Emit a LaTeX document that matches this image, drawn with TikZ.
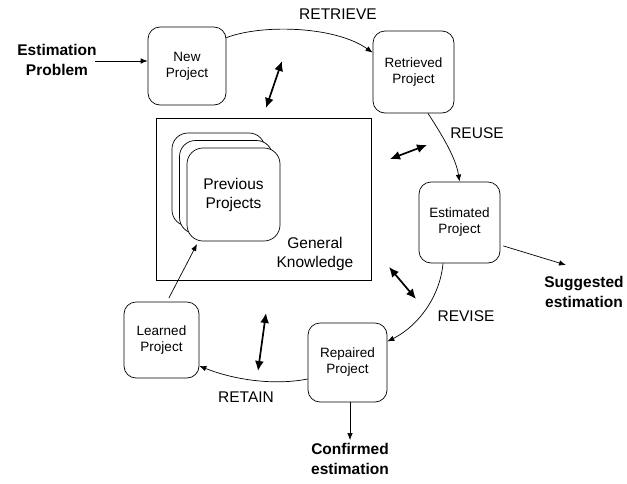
\documentclass[tikz,border=0pt]{standalone}
\usepackage{fontspec}
\setmainfont{Liberation Sans}
\usetikzlibrary{arrows.meta,calc}
\begin{document}
\begin{tikzpicture}[x=1pt,y=-1pt,
  proj/.style={draw,rounded corners=12pt,line width=0.7pt,align=center,
    font=\fontsize{13.5}{16}\selectfont,inner sep=0pt},
  card/.style={draw,rounded corners=16pt,line width=0.7pt,fill=white,
    minimum width=93pt,minimum height=93pt,inner sep=0pt},
  lbl/.style={font=\fontsize{15.5}{18}\selectfont},
  bold/.style={font=\fontsize{15.5}{19.5}\selectfont\bfseries,align=center},
  conn/.style={line width=0.7pt,-{Latex[length=7pt,width=5.5pt]}},
  dbl/.style={line width=1.7pt,{Latex[length=10pt,width=9pt]}-{Latex[length=10pt,width=9pt]}}]
\useasboundingbox (0,0) rectangle (627,483);
% project boxes
\node[proj,minimum width=78pt,minimum height=78pt] (new) at (187,66) {New\\Project};
\node[proj,minimum width=81pt,minimum height=82pt] (retr) at (413.5,72) {Retrieved\\Project};
\node[proj,minimum width=81pt,minimum height=81pt] (est) at (459.5,222.5) {Estimated\\Project};
\node[proj,minimum width=79pt,minimum height=79pt] (rep) at (347.5,362.5) {Repaired\\Project};
\node[proj,minimum width=75pt,minimum height=76pt] (learn) at (161.5,340) {Learned\\Project};
% general knowledge
\node[draw,line width=0.7pt,minimum width=215pt,minimum height=162pt,inner sep=0pt] (gk) at (263.5,199) {};
\node[card] (back) at (218.5,179.5) {};
\node[card] (mid) at (226,187) {};
\node[card,align=center,font=\fontsize{15.5}{19}\selectfont] (front) at (233.5,194.5) {Previous\\Projects};
\node[align=center,font=\fontsize{15.5}{19}\selectfont] (gktext) at (315,254) {General\\Knowledge};
% labels
\node[lbl] (lretrieve) at (338,14) {RETRIEVE};
\node[lbl] (lreuse) at (477,133) {REUSE};
\node[lbl] (lrevise) at (466,316) {REVISE};
\node[lbl] (lretain) at (246,397) {RETAIN};
% bold texts
\node[bold] (ep) at (57,60) {Estimation\\Problem};
\node[bold] (se) at (584,292) {Suggested\\estimation};
\node[bold] (ce) at (350,459) {Confirmed\\estimation};
% cycle connectors
\draw[conn] ([yshift=-11pt]new.north east) .. controls (262,24) and (335,26) .. ([yshift=-22pt]retr.north west);
\draw[conn] ([xshift=14.5pt]retr.south) .. controls (442,135) and (456,158) .. (est.north);
\draw[conn] ([xshift=-16.5pt]est.south) .. controls (440,297) and (418,326) .. ([yshift=21pt]rep.east);
\draw[conn] ([yshift=-16.5pt]rep.west) .. controls (272,386) and (232,379) .. ([yshift=-26pt]learn.east);
\coordinate (pend) at (197,244);
\draw[conn,shorten <=4pt] ([xshift=5.5pt]learn.north) -- (pend);
% inputs / outputs
\draw[conn] (95,61) -- ([yshift=5pt]new.west);
\coordinate (seend) at (566,265);
\draw[conn,shorten <=3pt] ([yshift=-22.5pt]est.east) -- (seend);
\draw[conn] ([xshift=2.5pt]rep.south) -- (ce.north);
% double arrows
\coordinate (d1a) at (282,61); \coordinate (d1b) at (266,108);
\coordinate (d2a) at (390,159); \coordinate (d2b) at (427,145);
\coordinate (d3a) at (389,267); \coordinate (d3b) at (416,299);
\coordinate (d4a) at (266,313); \coordinate (d4b) at (258,371);
\draw[dbl] (d1a) -- (d1b);
\draw[dbl] (d2a) -- (d2b);
\draw[dbl] (d3a) -- (d3b);
\draw[dbl] (d4a) -- (d4b);
\end{tikzpicture}
\end{document}
